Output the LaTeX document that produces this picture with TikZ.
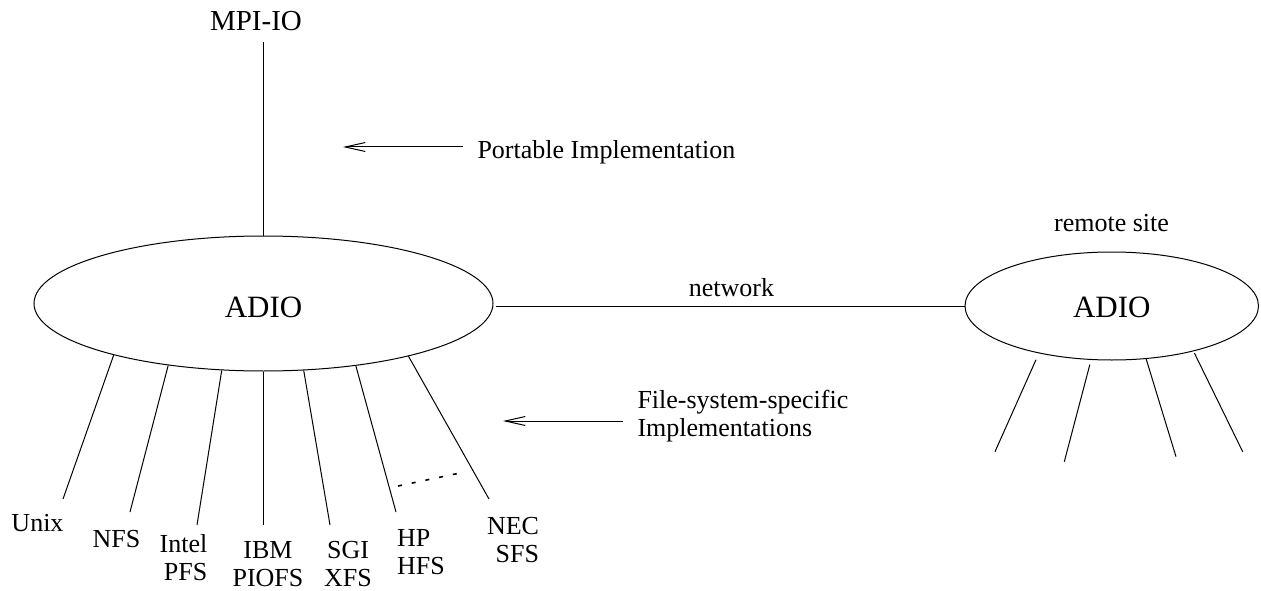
\documentclass[tikz,border=0pt]{standalone}
\usepackage{fontspec}
\setmainfont{Liberation Serif}
\usetikzlibrary{shapes.geometric,arrows.meta}

\begin{document}
\begin{tikzpicture}[
    x=1pt,y=-1pt,line width=1pt,
    site/.style={ellipse,draw,line width=1pt,inner sep=0pt,font=\fontsize{31}{31}\selectfont},
    lbl/.style={inner sep=0pt,font=\fontsize{26}{28}\selectfont},
    arrow/.style={-{Straight Barb[length=20pt,width=9pt]},line width=1pt},
    dots/.style={line width=1.6pt,dash pattern=on 4pt off 10pt}
]
    \useasboundingbox (0,0) rectangle (1261,591);

    % Top: MPI-IO and portable part
    \node[lbl,font=\fontsize{29}{29}\selectfont,anchor=base] (mpiio) at (256,30.7) {MPI-IO};
    \node[lbl,anchor=base west] (portable) at (477,159) {Portable Implementation};
    \coordinate (porttip) at (343,147);

    % ADIO, local and remote
    \node[site,minimum width=459pt,minimum height=135pt,text height=27.5pt] (adio) at (263.5,303.5) {ADIO};
    \node[site,minimum width=293.5pt,minimum height=108pt,text height=22.6pt] (remote) at (1111.75,306) {ADIO};
    \node[lbl,anchor=south] (remsite) at (1111.5,232.7) {remote site};
    \node[lbl,anchor=south] (network) at (731.5,297.3) {network};

    % File-system-specific part
    \node[lbl,anchor=south west,align=left] (fsspec) at (637,443) {File-system-specific\\Implementations};
    \coordinate (fstip) at (503,421);

    % File systems
    \node[lbl,anchor=base] (unix) at (37.5,531) {Unix};
    \node[lbl,anchor=base] (nfs) at (116.5,547) {NFS};
    \node[lbl,anchor=south,align=right] (intel) at (183.5,581) {Intel\\PFS};
    \node[lbl,anchor=south,align=center] (ibm) at (268,587) {IBM\\PIOFS};
    \node[lbl,anchor=south,align=center] (sgi) at (348,587) {SGI\\XFS};
    \node[lbl,anchor=south,align=left] (hp) at (421,575) {HP\\HFS};
    \node[lbl,anchor=south,align=right] (nec) at (513,563) {NEC\\SFS};

    % Leg ends
    \coordinate (unixend) at (63,499);
    \coordinate (nfsend) at (130,512);
    \coordinate (intelend) at (197,525);
    \coordinate (ibmend) at (263.5,525);
    \coordinate (sgiend) at (330,525);
    \coordinate (hpend) at (396,512);
    \coordinate (necend) at (489,499);
    \coordinate (dotsa) at (398,486);
    \coordinate (dotsb) at (460,473);
    \coordinate (remend1) at (995,451.7);
    \coordinate (remend2) at (1064.3,461.7);
    \coordinate (remend3) at (1176,456.7);
    \coordinate (remend4) at (1242.7,451.7);

    % Connections
    \draw[shorten >=11pt] (adio.north) -- (adio.north |- mpiio.south);
    \draw[arrow,shorten <=14pt] (portable.west |- porttip) -- (porttip);
    \draw[shorten <=2pt] (adio.east |- remote.west) -- (remote.west);
    \draw[arrow,shorten <=14pt] (fsspec.west |- fstip) -- (fstip);

    \draw (adio.199.7) -- (unixend);
    \draw (adio.213.05) -- (nfsend);
    \draw (adio.238.2) -- (intelend);
    \draw (adio.270) -- (ibmend);
    \draw (adio.301.5) -- (sgiend);
    \draw (adio.326.75) -- (hpend);
    \draw (adio.340.5) -- (necend);
    \draw[dots] (dotsa) -- (dotsb);

    \draw[shorten <=7pt] (remote.213.5) -- (remend1);
    \draw[shorten <=4.8pt] (remote.249.8) -- (remend2);
    \draw (remote.303.75) -- (remend3);
    \draw[shorten <=2pt] (remote.331.2) -- (remend4);
\end{tikzpicture}
\end{document}
